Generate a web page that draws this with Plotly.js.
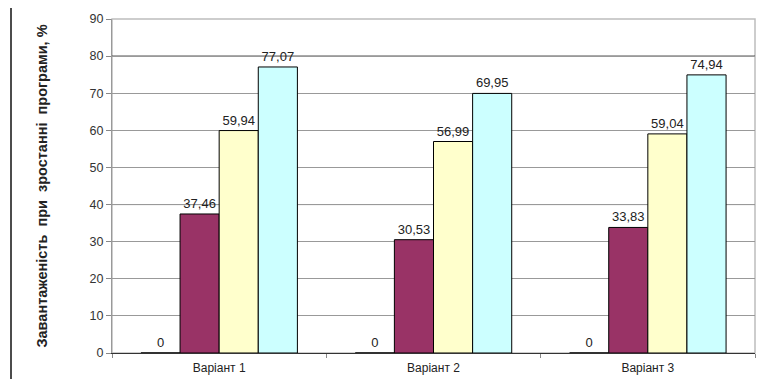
<!DOCTYPE html>
<html>
<head>
<meta charset="utf-8">
<script src="https://cdn.plot.ly/plotly-3.0.1.min.js"></script>
<style>
  html, body { margin: 0; padding: 0; background: #fff; }
  #chart { width: 758px; height: 379px; }
</style>
</head>
<body>
<div id="chart"></div>
<script>
// Variants along the x axis
const categories = ['Варіант 1', 'Варіант 2', 'Варіант 3'];

// Load values, %, one array per series
const loadBase   = [0, 0, 0];
const loadLow    = [37.46, 30.53, 33.83];
const loadMid    = [59.94, 56.99, 59.04];
const loadHigh   = [77.07, 69.95, 74.94];

const yTickValues = [0, 10, 20, 30, 40, 50, 60, 70, 80, 90];
const strongGridValues = [40, 80];

const seriesValues = [loadBase, loadLow, loadMid, loadHigh];
const seriesColors = ['#ffffff', '#993366', '#ffffcc', '#ccffff'];

const fmt = v => (v === 0 ? '0' : v.toFixed(2).replace('.', ','));

const W = 758, H = 379;
const M = { l: 112, r: 3, t: 19, b: 26 };
const plotW = W - M.l - M.r, plotH = H - M.t - M.b;
const px2paperX = px => (px - M.l) / plotW;
const px2paperY = py => (H - M.b - py) / plotH;

const FONT = 'Liberation Sans, Arial, sans-serif';

const traces = seriesValues.map((vals, i) => ({
  type: 'bar',
  x: categories,
  y: vals,
  text: vals.map(fmt),
  textposition: 'outside',
  textfont: { family: FONT, size: 13, color: '#222' },
  cliponaxis: false,
  marker: {
    color: seriesColors[i],
    line: { color: '#000', width: 1 }
  },
  hoverinfo: 'x+y',
  showlegend: false
}));

const shapes = [
  // plot frame (top and right edges)
  { type: 'rect', xref: 'paper', yref: 'paper', x0: 0, x1: 1, y0: 0, y1: 1,
    line: { color: '#bdbdbd', width: 1.5 }, layer: 'below' },
  // page edge on the left
  { type: 'line', xref: 'paper', yref: 'paper',
    x0: px2paperX(11), x1: px2paperX(11), y0: px2paperY(8), y1: px2paperY(H + 2),
    line: { color: '#111', width: 1.5 } }
].concat(strongGridValues.map(v => ({
  type: 'line', xref: 'paper', yref: 'y', x0: 0, x1: 1, y0: v, y1: v,
  line: { color: '#222', width: 1 }, layer: 'below'
})));

const layout = {
  width: W, height: H,
  margin: M,
  paper_bgcolor: '#fff',
  plot_bgcolor: '#fff',
  barmode: 'group',
  bargap: 0.27,
  bargroupgap: 0,
  font: { family: FONT, size: 12, color: '#333' },
  xaxis: {
    type: 'category',
    showline: true, linecolor: '#333', linewidth: 1,
    ticks: 'outside', tickson: 'boundaries', ticklen: 4, tickcolor: '#888',
    ticklabelstandoff: 4,
    tickfont: { family: FONT, size: 12, color: '#222' },
    showgrid: false, zeroline: false,
    fixedrange: true
  },
  yaxis: {
    range: [0, 90],
    tickvals: yTickValues,
    ticks: 'outside', ticklen: 5, tickcolor: '#888',
    showline: true, linecolor: '#999', linewidth: 1,
    showgrid: true, gridcolor: '#999', gridwidth: 1,
    zeroline: false,
    tickfont: { family: FONT, size: 12.5, color: '#333' },
    title: {
      text: '<b>Завантаженість  при  зростанні  програми, %</b>',
      font: { family: FONT, size: 14.5, color: '#222' },
      standoff: 38
    },
    fixedrange: true
  },
  shapes: shapes
};

Plotly.newPlot('chart', traces, layout, { staticPlot: true, displayModeBar: false });
</script>
</body>
</html>
